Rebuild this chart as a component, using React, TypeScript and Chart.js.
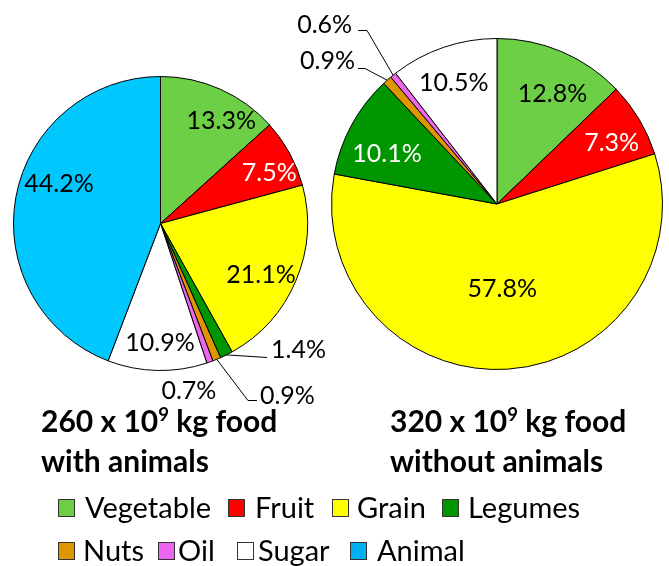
import React, { useEffect, useRef } from "react";
import { Chart, registerables } from "chart.js";
Chart.register(...registerables);

// ---------- data ----------
const categories = ["Vegetable", "Fruit", "Grain", "Legumes", "Nuts", "Oil", "Sugar", "Animal"];
const withAnimalsValues = [13.3, 7.5, 21.1, 1.4, 0.9, 0.7, 10.9, 44.2];
const withoutAnimalsValues = [12.8, 7.3, 57.8, 10.1, 0.9, 0.6, 10.5, 0];
const sliceColors = ["#6ccf45", "#ff0000", "#ffff00", "#009600", "#dd9500", "#ee66ee", "#ffffff", "#00c8ff"];
const legendBoxColors = ["#6ccf45", "#ff0000", "#ffff00", "#009600", "#dd9500", "#ee66ee", "#ffffff", "#00b0f0"];
const titleAmounts = ["260", "320"];
const titleCaptions = ["with animals", "without animals"];

const FONT = "Lato, 'Open Sans', sans-serif";

type OutSpec = { elbow?: [number, number]; end: [number, number] | null; tx: number; ty: number; align: CanvasTextAlign };
type LabelSpec = { f?: number; dx?: number; dy?: number; color?: string; out?: OutSpec };

// label placement (layout only)
const leftLabelSpecs: LabelSpec[] = [
  { dx: 16, dy: -2 },
  { dx: 12, dy: 2, color: "#ffffff" },
  { dx: -1, dy: 9 },
  { out: { end: [40.6, 2.6], tx: 44.6, ty: -5.4, align: "left" } },
  { out: { elbow: [31.2, 41.2], end: [40.2, 41.2], tx: 43.2, ty: 36.2, align: "left" } },
  { out: { end: null, tx: -21, ty: 28.5, align: "center" } },
  { dx: 2, dy: 9 },
  { dx: 7, dy: -20 },
];
const rightLabelSpecs: LabelSpec[] = [
  { dx: 7, dy: 4 },
  { dx: 8, dy: 2, color: "#ffffff" },
  { f: 0.5, dx: 0, dy: 2 },
  { dx: -1, dy: 9, color: "#ffffff" },
  { out: { elbow: [-22.2, -11.7], end: [-29.2, -11.7], tx: -32.2, ty: -19.7, align: "right" } },
  { out: { elbow: [-26.1, -44.7], end: [-35.1, -44.7], tx: -41, ty: -50.2, align: "right" } },
  { dx: -3, dy: -4 },
  {},
];

const labelPlugin = {
  id: "sliceLabels",
  afterDatasetsDraw(chart: any, _args: any, opts: any) {
    const ctx: CanvasRenderingContext2D = chart.ctx;
    const meta = chart.getDatasetMeta(0);
    const values: number[] = chart.data.datasets[0].data;
    const specs: LabelSpec[] = opts.specs || [];
    ctx.save();
    ctx.font = `25px ${FONT}`;
    ctx.textBaseline = "middle";
    meta.data.forEach((arc: any, i: number) => {
      const v = values[i];
      if (!v) return;
      const s = specs[i] || {};
      const p = arc.getProps(["x", "y", "startAngle", "endAngle", "outerRadius"], true);
      const mid = (p.startAngle + p.endAngle) / 2;
      const text = v.toFixed(1) + "%";
      if (s.out) {
        const ex = p.x + Math.cos(mid) * p.outerRadius;
        const ey = p.y + Math.sin(mid) * p.outerRadius;
        if (s.out.end) {
          ctx.strokeStyle = "#000";
          ctx.lineWidth = 1;
          ctx.beginPath();
          ctx.moveTo(ex, ey);
          if (s.out.elbow) ctx.lineTo(ex + s.out.elbow[0], ey + s.out.elbow[1]);
          ctx.lineTo(ex + s.out.end[0], ey + s.out.end[1]);
          ctx.stroke();
        }
        ctx.fillStyle = s.color || "#000";
        ctx.textAlign = s.out.align;
        ctx.fillText(text, ex + s.out.tx, ey + s.out.ty);
      } else {
        const r = p.outerRadius * (s.f ?? 0.75);
        ctx.fillStyle = s.color || "#000";
        ctx.textAlign = "center";
        ctx.fillText(text, p.x + Math.cos(mid) * r + (s.dx || 0), p.y + Math.sin(mid) * r + (s.dy || 0));
      }
    });
    ctx.restore();
  },
};

function PieCanvas({ values, specs, padding }: { values: number[]; specs: LabelSpec[]; padding: any }) {
  const ref = useRef<HTMLCanvasElement>(null);
  useEffect(() => {
    const chart = new Chart(ref.current as HTMLCanvasElement, {
      type: "pie",
      data: {
        labels: categories,
        datasets: [
          {
            data: values,
            backgroundColor: sliceColors,
            borderColor: "#000000",
            borderWidth: (c: any) => (c.raw === 0 ? 0 : 1),
          } as any,
        ],
      },
      options: {
        responsive: false,
        animation: false,
        layout: { padding },
        plugins: {
          legend: { display: false },
          tooltip: { enabled: false },
          sliceLabels: { specs },
        } as any,
      },
      plugins: [labelPlugin as any],
    });
    return () => chart.destroy();
  }, []);
  return (
    <canvas
      ref={ref}
      width={669}
      height={566}
      style={{ position: "absolute", left: 0, top: 0, width: 669, height: 566 }}
    />
  );
}

function Title({ amount, caption, left }: { amount: string; caption: string; left: number }) {
  return (
    <div
      style={{
        position: "absolute",
        left,
        top: 400,
        font: `bold 30px ${FONT}`,
        lineHeight: "40px",
        whiteSpace: "nowrap",
        color: "#000",
      }}
    >
      {amount} x 10
      <span style={{ fontSize: "0.62em", position: "relative", top: "-0.6em", lineHeight: 0 }}>9</span> kg food
      <br />
      {caption}
    </div>
  );
}

const legendBoxX = [58, 228, 332, 442, 58, 158, 237, 350];
const legendTextX = [85, 255, 357, 468, 83, 178, 258, 377];

export default function App() {
  return (
    <div style={{ position: "fixed", left: 0, top: 0, width: 669, height: 566, background: "#fff", overflow: "hidden" }}>
      <PieCanvas
        values={withAnimalsValues}
        specs={leftLabelSpecs}
        padding={{ left: 13, right: 361, top: 76, bottom: 195 }}
      />
      <PieCanvas
        values={withoutAnimalsValues}
        specs={rightLabelSpecs}
        padding={{ left: 331, right: 6, top: 38, bottom: 196 }}
      />
      <Title amount={titleAmounts[0]} caption={titleCaptions[0]} left={41} />
      <Title amount={titleAmounts[1]} caption={titleCaptions[1]} left={390} />
      {categories.map((c, i) => {
        const row = i < 4 ? 0 : 1;
        const top = row === 0 ? 489 : 532;
        return (
          <React.Fragment key={c}>
            <div
              style={{
                position: "absolute",
                left: legendBoxX[i],
                top: top + 10,
                width: 15,
                height: 16,
                background: legendBoxColors[i],
                border: "1px solid #333",
              }}
            />
            <div
              style={{
                position: "absolute",
                left: legendTextX[i],
                top,
                font: `29px ${FONT}`,
                lineHeight: "36px",
                whiteSpace: "nowrap",
                color: "#000",
              }}
            >
              {c}
            </div>
          </React.Fragment>
        );
      })}
    </div>
  );
}
